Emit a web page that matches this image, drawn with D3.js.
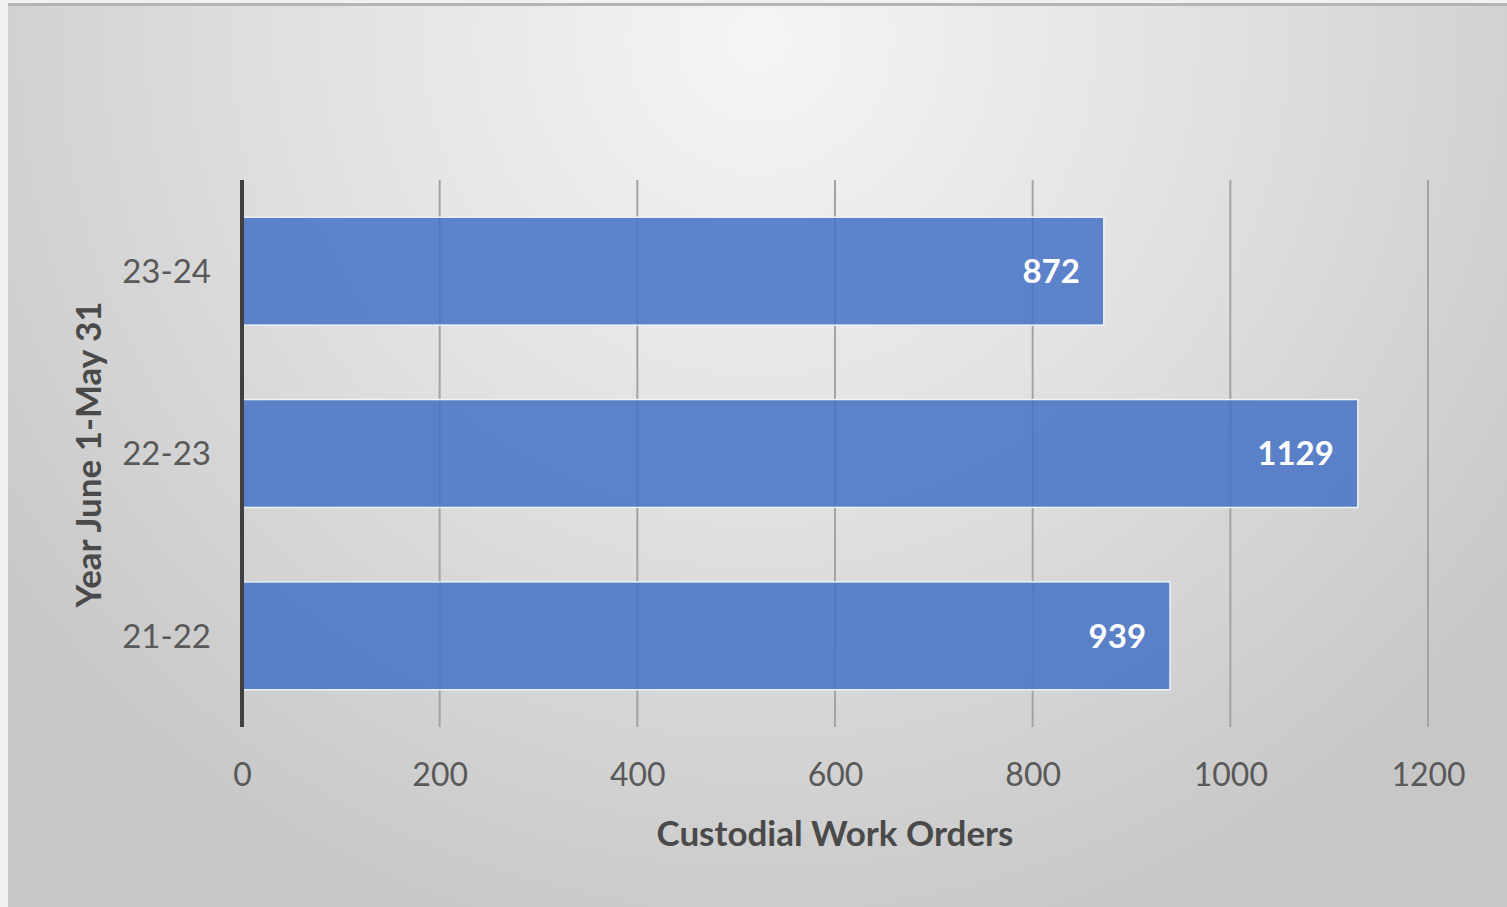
<!DOCTYPE html>
<html>
<head>
<meta charset="utf-8">
<script src="https://cdn.jsdelivr.net/npm/d3@7"></script>
<style>
  html, body { margin: 0; padding: 0; background: #f2f1ef; }
  svg { display: block; }
</style>
</head>
<body>
<script>
// Work orders per fiscal year (June 1 - May 31)
const categories = ["23-24", "22-23", "21-22"];
const workOrders = [872, 1129, 939];
const xTicks = [0, 200, 400, 600, 800, 1000, 1200];
const xTitle = "Custodial Work Orders";
const yTitle = "Year June 1-May 31";

const W = 1507, H = 907;
const svg = d3.select("body").append("svg").attr("width", W).attr("height", H);

const defs = svg.append("defs");
const grad = defs.append("radialGradient")
  .attr("id", "bg").attr("gradientUnits", "userSpaceOnUse")
  .attr("cx", 760).attr("cy", 40).attr("r", 950);
grad.append("stop").attr("offset", "0%").attr("stop-color", "#f5f5f5");
grad.append("stop").attr("offset", "50%").attr("stop-color", "#e0e0e0");
grad.append("stop").attr("offset", "100%").attr("stop-color", "#c7c7c7");

// chart panel
svg.append("rect").attr("x", 8).attr("y", 3).attr("width", W - 8).attr("height", H - 3)
  .attr("fill", "url(#bg)");
svg.append("line").attr("x1", 8).attr("x2", W).attr("y1", 4.5).attr("y2", 4.5)
  .attr("stroke", "#b4b4b4").attr("stroke-width", 3);

const plot = { left: 242, right: 1428, top: 180, bottom: 727 };

const x = d3.scaleLinear().domain([0, 1200]).range([plot.left, plot.right]);
const y = d3.scaleBand().domain(categories).range([plot.top, plot.bottom])
  .paddingInner(0.408).paddingOuter(0.204);

// vertical gridlines
svg.append("g").selectAll("line").data(xTicks.filter(d => d > 0)).join("line")
  .attr("x1", d => x(d)).attr("x2", d => x(d))
  .attr("y1", plot.top).attr("y2", plot.bottom)
  .attr("stroke", "#a3a3a3").attr("stroke-width", 2);

// bars
const data = categories.map((c, i) => ({ cat: c, v: workOrders[i] }));
svg.append("g").selectAll("rect").data(data).join("rect")
  .attr("x", x(0)).attr("y", d => y(d.cat))
  .attr("width", d => x(d.v) - x(0)).attr("height", y.bandwidth())
  .attr("fill", "#4472c4").attr("fill-opacity", 0.85)
  .attr("stroke", "#eef2f9").attr("stroke-width", 1.5);

// value labels
svg.append("g").selectAll("text").data(data).join("text")
  .attr("x", d => x(d.v) - 24).attr("y", d => y(d.cat) + y.bandwidth() / 2)
  .attr("dy", "0.36em").attr("text-anchor", "end")
  .attr("font-family", "Lato, 'Open Sans', sans-serif").attr("font-weight", "bold")
  .attr("font-size", 33).attr("fill", "#ffffff")
  .text(d => d.v);

// x axis tick labels
const xAxis = d3.axisBottom(x).tickValues(xTicks).tickSize(0).tickPadding(0).tickFormat(d3.format("d"));
const gx = svg.append("g").attr("transform", `translate(0,${plot.bottom})`).call(xAxis);
gx.select(".domain").remove();
gx.selectAll("text").attr("y", 47).attr("dy", "0.36em")
  .attr("font-family", "Lato, 'Open Sans', sans-serif").attr("font-size", 32).attr("fill", "#595959");

// y axis
const yAxis = d3.axisLeft(y).tickSize(0).tickPadding(31);
const gy = svg.append("g").attr("transform", `translate(${plot.left},0)`).call(yAxis);
gy.select(".domain").remove();
gy.selectAll("text").attr("dy", "0.36em")
  .attr("font-family", "Lato, 'Open Sans', sans-serif").attr("font-size", 33).attr("fill", "#595959");
svg.append("line").attr("x1", plot.left).attr("x2", plot.left)
  .attr("y1", plot.top).attr("y2", plot.bottom)
  .attr("stroke", "#404040").attr("stroke-width", 4);

// axis titles
svg.append("text").attr("x", (plot.left + plot.right) / 2).attr("y", 833).attr("dy", "0.36em")
  .attr("text-anchor", "middle")
  .attr("font-family", "Lato, 'Open Sans', sans-serif").attr("font-weight", "bold")
  .attr("font-size", 35).attr("fill", "#4a4a4a").text(xTitle);

svg.append("text").attr("transform", `translate(88,${(plot.top + plot.bottom) / 2 + 1}) rotate(-90)`)
  .attr("dy", "0.36em").attr("text-anchor", "middle")
  .attr("font-family", "Lato, 'Open Sans', sans-serif").attr("font-weight", "bold")
  .attr("font-size", 35).attr("fill", "#4a4a4a").text(yTitle);
</script>
</body>
</html>
